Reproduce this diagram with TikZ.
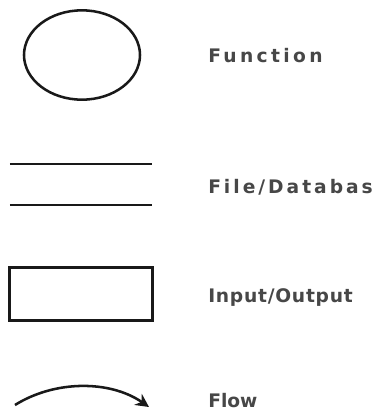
\documentclass[tikz,border=0pt]{standalone}
\usepackage{fontspec}
\setmainfont{DejaVu Sans}
\usetikzlibrary{shapes.geometric,arrows.meta}
\begin{document}
\begin{tikzpicture}[x=0.75pt,y=-0.75pt,
  symline/.style={line width=1.9pt,black!90},
  label/.style={anchor=base west,inner sep=0pt,font=\bfseries\fontsize{14}{16}\selectfont,text=black!72}]
  \useasboundingbox (0,0) rectangle (374,412);
  % function symbol
  \node[ellipse,draw,symline,minimum width=87pt,minimum height=67pt,inner sep=0pt] (func) at (82,55) {};
  \node[label] (funclbl) at (208,62) {\addfontfeature{LetterSpace=18}Function};
  % file / database symbol
  \coordinate (db1a) at (10,164);
  \coordinate (db1b) at (152,164);
  \coordinate (db2a) at (10,205);
  \coordinate (db2b) at (152,205);
  \draw[symline] (db1a) -- (db1b);
  \draw[symline] (db2a) -- (db2b);
  \node[label] (dblbl) at (208,193) {\addfontfeature{LetterSpace=16}File/Database};
  % input / output symbol
  \node[draw,symline,minimum width=107pt,minimum height=40pt,inner sep=0pt] (io) at (81,294) {};
  \node[label] (iolbl) at (208,302) {\addfontfeature{LetterSpace=4}Input/Output};
  % flow symbol
  \coordinate (flowa) at (15,405);
  \coordinate (flowb) at (149,407);
  \draw[symline,-{Stealth[length=10pt,width=10pt]}] (flowa) .. controls (55,380) and (110,380) .. (flowb);
  \node[label] (flowlbl) at (208,407) {Flow};
\end{tikzpicture}
\end{document}
